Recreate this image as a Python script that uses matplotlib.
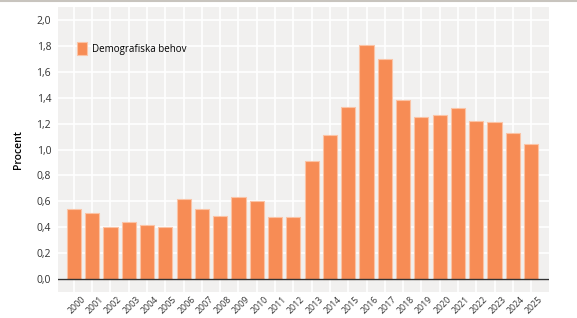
import numpy as np
import matplotlib.pyplot as plt
import matplotlib.transforms as mtransforms
from matplotlib.lines import Line2D

years = [str(y) for y in range(2000, 2026)]
values = [0.54, 0.51, 0.40, 0.44, 0.42, 0.40, 0.62, 0.54, 0.49, 0.63, 0.60, 0.48, 0.48,
          0.91, 1.11, 1.33, 1.81, 1.70, 1.38, 1.25, 1.27, 1.32, 1.22, 1.21, 1.13, 1.04]
yticks = [0.0, 0.2, 0.4, 0.6, 0.8, 1.0, 1.2, 1.4, 1.6, 1.8, 2.0]

plt.rcParams['font.family'] = ['Open Sans', 'DejaVu Sans']

fig = plt.figure(figsize=(5.77, 3.18), dpi=100)
ax = fig.add_axes([0.1005, 0.0818, 0.851, 0.896])
ax.set_facecolor('#f1f0ef')

x = np.arange(len(years))
ax.bar(x, values, width=0.77, color='#f78c55', edgecolor='#fbc3a5', linewidth=0.8,
       label='Demografiska behov', zorder=3)

ax.set_xlim(-0.87, len(years) - 0.02)
ax.set_ylim(-0.1, 2.1)
ax.set_yticks(yticks)
ax.set_yticklabels([f'{v:.1f}'.replace('.', ',') for v in yticks], fontsize=7.5, color='#333333')
ax.set_xticks(x)
ax.set_xticklabels(years, rotation=45, ha='right', rotation_mode='anchor', fontsize=6.3, color='#333333')
ax.tick_params(length=0, pad=5)
ax.tick_params(axis='x', pad=2)
shift = mtransforms.ScaledTranslation(0.07, 0, fig.dpi_scale_trans)
for lbl in ax.get_xticklabels():
    lbl.set_transform(lbl.get_transform() + shift)

ax.grid(True, color='white', linewidth=1.2, zorder=0)
ax.set_axisbelow(True)
for s in ax.spines.values():
    s.set_visible(False)
ax.axhline(0, color='#333333', linewidth=1, zorder=4)

ax.set_ylabel('Procent', fontsize=7.5, fontweight='semibold', labelpad=9)

ax.legend(loc='upper left', bbox_to_anchor=(0.03, 0.89), frameon=False, fontsize=7,
          handlelength=1.1, handleheight=1.6, handletextpad=0.5, borderaxespad=0)

fig.add_artist(Line2D([0, 1], [0.998, 0.998], color='#c8c4be', linewidth=1.5, transform=fig.transFigure))

fig.savefig('out.png', dpi=100)
